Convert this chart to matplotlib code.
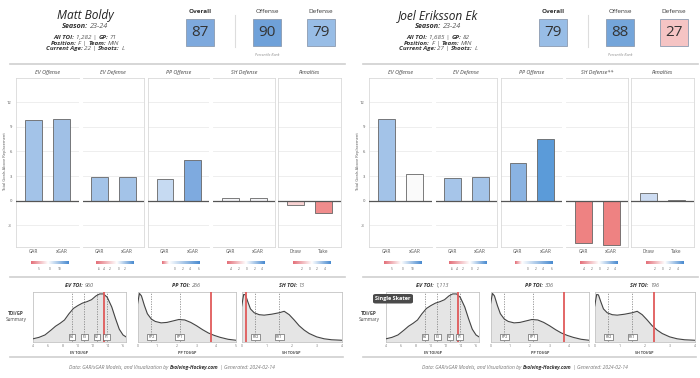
import matplotlib
matplotlib.use('Agg')
import matplotlib.pyplot as plt
import numpy as np
from matplotlib.lines import Line2D
from matplotlib.patches import Rectangle, FancyBboxPatch
from matplotlib.colors import LinearSegmentedColormap

plt.rcParams['font.family'] = ['Open Sans', 'DejaVu Sans']

# ---- data ----
rank_labels = ['Overall', 'Offense', 'Defense']
facet_titles_left = ['EV Offense', 'EV Defense', 'PP Offense', 'SH Defense', 'Penalties']
facet_titles_right = ['EV Offense', 'EV Defense', 'PP Offense', 'SH Defense**', 'Penalties']
bar_labels = [['GAR', 'xGAR'], ['GAR', 'xGAR'], ['GAR', 'xGAR'], ['GAR', 'xGAR'], ['Draw', 'Take']]
gar_ticks = [-3, 0, 3, 6, 9, 12]

boldy_name = 'Matt Boldy'
boldy_info = ['23-24', '1,282', '71', 'F', 'MIN', '22', 'L']
boldy_ranks = [87, 90, 79]
boldy_gar = [[9.8, 10.0], [2.9, 2.9], [2.7, 4.9], [0.3, 0.3], [-0.5, -1.5]]
boldy_toi = ['960', '266', '13']
boldy_toi_gp = [960 / 71, 266 / 71, 13 / 71]

ek_name = 'Joel Eriksson Ek'
ek_info = ['23-24', '1,685', '82', 'F', 'MIN', '27', 'L']
ek_ranks = [79, 88, 27]
ek_gar = [[9.9, 3.3], [2.8, 2.9], [4.6, 7.5], [-5.2, -5.4], [0.9, 0.1]]
ek_toi = ['1,113', '306', '196']
ek_toi_gp = [1113 / 82, 306 / 82, 196 / 82]

# league TOI/GP density (normalised height)
ev_x = [4.0, 4.8, 5.6, 6.4, 7.0, 7.6, 8.2, 8.8, 9.4, 10.0, 10.6, 11.2, 11.8, 12.4, 12.9, 13.4, 13.9, 14.5, 15.0, 15.5, 16.0, 16.4]
ev_y = [0.06, 0.09, 0.14, 0.24, 0.32, 0.38, 0.45, 0.58, 0.69, 0.75, 0.80, 0.83, 0.87, 0.95, 0.99, 0.99, 0.92, 0.72, 0.48, 0.26, 0.14, 0.10]
pp_x = [0, 0.1, 0.2, 0.35, 0.5, 0.7, 0.9, 1.2, 1.5, 1.8, 2.1, 2.4, 2.7, 3.0, 3.3, 3.6, 3.9, 4.2, 4.6, 5.0]
pp_y = [0.78, 1.0, 0.95, 0.75, 0.58, 0.47, 0.42, 0.39, 0.40, 0.43, 0.46, 0.45, 0.40, 0.33, 0.25, 0.18, 0.13, 0.09, 0.05, 0.03]
sh_x = [0, 0.08, 0.15, 0.25, 0.35, 0.5, 0.7, 0.9, 1.2, 1.5, 1.7, 1.9, 2.1, 2.3, 2.5, 2.7, 3.0, 3.3, 3.6, 4.0]
sh_y = [0.74, 0.98, 0.97, 0.82, 0.68, 0.60, 0.56, 0.55, 0.57, 0.60, 0.63, 0.56, 0.45, 0.33, 0.24, 0.17, 0.10, 0.06, 0.04, 0.03]
dens_names = ['EV', 'PP', 'SH']
dens_xlim = [(4, 16.4), (0, 5), (0, 4)]
dens_xticks = [[4, 6, 8, 10, 12, 14, 16], [0, 1, 2, 3, 4, 5], [0, 1, 2, 3, 4]]
line_pos = [[9.2, 10.85, 12.5, 13.8], [0.7, 2.15], [0.55, 1.5]]
line_tags = [['F4', 'F3', 'F2', 'F1'], ['PP2', 'PP1'], ['PK2', 'PK1']]

cbar_labels = [['-5', '0', '10'], ['-6', '-4', '-2', '0', '2'], ['0', '2', '4', '6'],
               ['-4', '-2', '0', '2', '4'], ['-2', '0', '2', '4']]

# ---- styles ----
boldy_bar_colors = [['#a3c3e8', '#a0c0e6'], ['#a3c3e8', '#a3c3e8'], ['#c6daf2', '#7eaadf'],
                    ['#f4f5f8', '#f4f5f8'], ['#f8d2d2', '#f08c8c']]
ek_bar_colors = [['#a3c3e8', '#fafafa'], ['#a6c5e9', '#a3c3e8'], ['#8ab3e2', '#5b9bd9'],
                 ['#ee8282', '#ee8282'], ['#cddcf2', '#ececec']]
boldy_box_colors = ['#7ea9dd', '#6fa1d9', '#98bde6']
ek_box_colors = ['#98bde6', '#74a5da', '#f5c4c4']
cbar_mid = [0.45, 0.55, 0.18, 0.5, 0.5]
cbar_tick_frac = [[0.24, 0.5, 0.77], [0.08, 0.22, 0.36, 0.6, 0.75], [0.35, 0.55, 0.75, 0.97],
                  [0.12, 0.32, 0.52, 0.72, 0.9], [0.25, 0.45, 0.65, 0.85]]

W, H = 700, 378
fig = plt.figure(figsize=(7, 3.78), dpi=100)
fig.patch.set_facecolor('white')


def fx(x):
    return x / W


def fy(y):
    return 1 - y / H


def axes_px(x0, y0, x1, y1):
    return fig.add_axes([x0 / W, 1 - y1 / H, (x1 - x0) / W, (y1 - y0) / H])


def hline(x0, x1, y, color='#cfcfcf', lw=1.2):
    fig.add_artist(Line2D([fx(x0), fx(x1)], [fy(y), fy(y)], color=color, lw=lw))


def rich(xc, y, parts, size, gap=True):
    # parts: (text, bold, color); centered mixed-weight italic text
    r = fig.canvas.get_renderer()
    texts = []
    for s, bold, color in parts:
        t = fig.text(0, fy(y), s, fontsize=size, fontweight='bold' if bold else 'normal',
                     style='italic', color=color, va='center', ha='left')
        texts.append(t)
    widths = [t.get_window_extent(r).width for t in texts]
    sp = size * 100 / 72 * 0.28 if gap else 0
    total = sum(widths) + sp * (len(parts) - 1)
    x = xc - total / 2
    for t, w in zip(texts, widths):
        t.set_x(x / W)
        x += w + sp


def draw_card(x0, name, info, ranks, box_colors, gar, bar_colors, titles, toi, toi_gp, tooltip=False):
    dark = '#333333'
    val = '#555555'
    # header
    fig.text(fx(x0 + 85), fy(16), name, fontsize=8.6, style='italic', color='#222222',
             ha='center', va='center')
    rich(x0 + 85, 27, [('Season:', True, dark), (info[0], False, val)], 5.2)
    rich(x0 + 85, 37.8, [('All TOI:', True, dark), (info[1] + ' |', False, val),
                         ('GP:', True, dark), (info[2], False, val)], 4.5)
    rich(x0 + 85, 43.2, [('Position:', True, dark), (info[3] + ' |', False, val),
                         ('Team:', True, dark), (info[4], False, val)], 4.5)
    rich(x0 + 85, 48.6, [('Current Age:', True, dark), (info[5] + ' |', False, val),
                         ('Shoots:', True, dark), (info[6], False, val)], 4.5)

    box_x = [186, 253, 307]
    for i in range(3):
        bx = x0 + box_x[i]
        fig.text(fx(bx + 14), fy(11.5), rank_labels[i], fontsize=4.6, color='#333333',
                 fontweight='bold' if i == 0 else 'normal', ha='center', va='center')
        fig.add_artist(Rectangle((fx(bx), fy(45.5)), 28 / W, 27 / H, transform=fig.transFigure,
                                 facecolor=box_colors[i], edgecolor='#8c9bb0', lw=0.6))
        fig.text(fx(bx + 14), fy(32), str(ranks[i]), fontsize=11, color='#333333',
                 ha='center', va='center')
    fig.add_artist(Line2D([fx(x0 + 235)] * 2, [fy(15), fy(47)], color='#dddddd', lw=0.8))
    fig.text(fx(x0 + 267), fy(54.5), 'Percentile Rank', fontsize=2.6, style='italic',
             color='#888888', ha='center', va='center')

    hline(x0 + 10, x0 + 345, 63.5)

    # GAR facets
    fac_x = [(16, 79), (82.7, 144), (148.3, 209.3), (213.3, 275), (278.3, 340.7)]
    sides = [('left',), ('right',), ('left',), ('right',), ('left', 'right')]
    for k in range(5):
        a, b = fac_x[k]
        ax = axes_px(x0 + a, 78.3, x0 + b, 246.7)
        ax.bar([1, 2], gar[k], width=0.6, color=bar_colors[k], edgecolor='#666666', lw=0.6, zorder=3)
        ax.axhline(0, color='#555555', lw=0.9, zorder=4)
        ax.set_xlim(0.4, 2.6)
        ax.set_ylim(-5.6, 14.9)
        ax.set_yticks(gar_ticks)
        ax.yaxis.grid(True, color='#ebebeb', lw=0.6)
        ax.set_axisbelow(True)
        ax.set_xticks([1, 2])
        ax.set_xticklabels(bar_labels[k], fontsize=3.4, color='#555555')
        ax.tick_params(length=0, pad=2)
        if k == 0:
            ax.set_yticklabels([str(v) for v in gar_ticks], fontsize=3.0, color='#555555')
            ax.tick_params(axis='y', pad=3)
        else:
            ax.set_yticklabels([])
        for s in ax.spines:
            ax.spines[s].set_color('#d9d9d9')
            ax.spines[s].set_linewidth(0.6)
            ax.spines[s].set_visible(s in ('top', 'bottom') or s in sides[k])
        fig.text(fx(x0 + (a + b) / 2), fy(72.5), titles[k], fontsize=3.9, style='italic',
                 color='#444444', ha='center', va='center')

        # little colour legend under each facet
        cx = x0 + (a + b) / 2 - 17
        cax = axes_px(cx, 260.5, cx + 38, 264.2)
        cmap = LinearSegmentedColormap.from_list(
            'gar', [(0, '#e4707a'), (cbar_mid[k], '#ffffff'), (1, '#4a8bd0')])
        cax.imshow(np.linspace(0, 1, 100)[None, :], cmap=cmap, aspect='auto', extent=(0, 1, 0, 1))
        cax.set_axis_off()
        for f, lab in zip(cbar_tick_frac[k], cbar_labels[k]):
            fig.text(fx(cx + 38 * f), fy(268.5), lab, fontsize=2.3, color='#666666',
                     ha='center', va='center')

    fig.text(fx(x0 + 5), fy(162), 'Total Goals Above Replacement', fontsize=2.9, color='#555555',
             rotation=90, ha='center', va='center')
    hline(x0 + 10, x0 + 345, 277.3)

    # TOI/GP densities
    fig.text(fx(x0 + 16), fy(313.5), 'TOI/GP', fontsize=3.3, fontweight='bold', color='#444444',
             ha='center', va='center')
    fig.text(fx(x0 + 16), fy(319), 'Summary', fontsize=3.3, color='#444444', ha='center', va='center')
    dens_px = [(33, 126), (137.5, 236), (241.7, 341.7)]
    curves = [(ev_x, ev_y), (pp_x, pp_y), (sh_x, sh_y)]
    for k in range(3):
        a, b = dens_px[k]
        ax = axes_px(x0 + a, 292, x0 + b, 341.7)
        cxs, cys = curves[k]
        ax.fill_between(cxs, 0, cys, color='#e5e5e5', lw=0, zorder=1)
        ax.plot(cxs, cys, color='#444444', lw=0.8, zorder=3)
        for p, tag in zip(line_pos[k], line_tags[k]):
            ax.axvline(p, color='#666666', lw=0.45, ls=(0, (2, 2)), zorder=2)
            ax.text(p, 0.1, tag, fontsize=2.5, color='#333333', ha='center', va='center',
                    bbox=dict(boxstyle='square,pad=0.35', fc='white', ec='#444444', lw=0.4), zorder=5)
        ax.axvline(toi_gp[k], color='#e05a5a', lw=1.3, zorder=4)
        ax.set_xlim(*dens_xlim[k])
        ax.set_ylim(0, 1.03)
        ax.set_yticks([])
        ax.set_xticks(dens_xticks[k])
        ax.set_xticklabels([str(t) for t in dens_xticks[k]], fontsize=2.5, color='#777777')
        ax.tick_params(length=0, pad=2)
        ax.set_xlabel(dens_names[k] + ' TOI/GP', fontsize=2.6, fontweight='bold', color='#444444',
                      labelpad=1.5)
        for s in ax.spines.values():
            s.set_color('#c4c4c4')
            s.set_linewidth(0.6)
        rich(x0 + (a + b) / 2, 285.7, [(dens_names[k] + ' TOI:', True, '#333333'),
                                       (toi[k], False, '#666666')], 4.0)

    hline(x0 + 10, x0 + 343, 357)
    rich(x0 + 172, 367, [('Data: GAR/xGAR Models, and Visualization by', False, '#777777'),
                         ('Evolving-Hockey.com', True, '#333333'),
                         ('| Generated: 2024-02-14', False, '#777777')], 3.6)

    if tooltip:
        fig.add_artist(FancyBboxPatch((fx(x0 + 20), fy(303.5)), 40 / W, 9.5 / H,
                                      boxstyle='round,pad=0,rounding_size=0.004',
                                      transform=fig.transFigure, fc='#4a4a4a', ec='none', zorder=10))
        fig.text(fx(x0 + 40), fy(298.8), 'Single Skater', fontsize=4.0, fontweight='bold',
                 color='white', ha='center', va='center', zorder=11)


draw_card(0, boldy_name, boldy_info, boldy_ranks, boldy_box_colors, boldy_gar, boldy_bar_colors,
          facet_titles_left, boldy_toi, boldy_toi_gp)
draw_card(353, ek_name, ek_info, ek_ranks, ek_box_colors, ek_gar, ek_bar_colors,
          facet_titles_right, ek_toi, ek_toi_gp, tooltip=True)

fig.savefig('out.png', dpi=100, facecolor='white')
